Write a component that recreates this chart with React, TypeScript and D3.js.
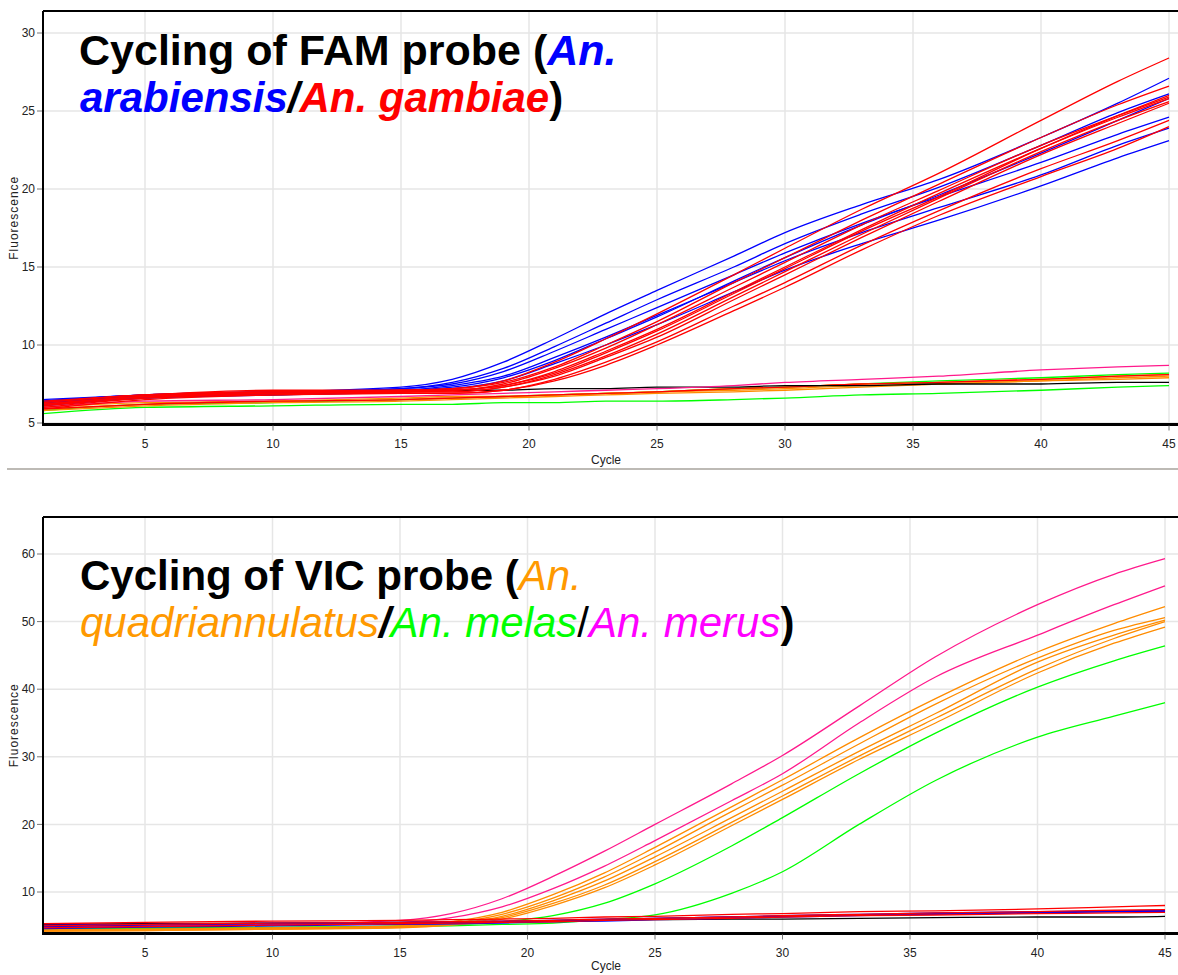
import * as d3 from 'd3';

const cycles = [1, 5, 10, 15, 17, 19, 21, 23, 25, 28, 30, 33, 36, 40, 43, 45];
const xTicks = [5, 10, 15, 20, 25, 30, 35, 40, 45];

// ---- FAM panel ----
const famTicks = [5, 10, 15, 20, 25, 30];
const famFlat = [
    { color: '#00ff00', values: [5.6, 6.0, 6.1, 6.2, 6.2, 6.3, 6.3, 6.4, 6.4, 6.5, 6.6, 6.8, 6.9, 7.1, 7.3, 7.4] },
    { color: '#00ff00', values: [5.8, 6.2, 6.3, 6.5, 6.6, 6.7, 6.8, 6.9, 7.0, 7.2, 7.3, 7.5, 7.7, 7.9, 8.1, 8.2] },
    { color: '#ff8c00', values: [5.9, 6.2, 6.4, 6.5, 6.6, 6.7, 6.8, 6.9, 7.0, 7.2, 7.3, 7.5, 7.6, 7.8, 8.0, 8.1] },
    { color: '#ff8c00', values: [6.0, 6.3, 6.4, 6.6, 6.7, 6.7, 6.8, 6.9, 7.0, 7.1, 7.2, 7.4, 7.5, 7.7, 7.8, 7.9] },
    { color: '#ff8c00', values: [5.8, 6.1, 6.3, 6.4, 6.5, 6.6, 6.7, 6.8, 6.9, 7.0, 7.1, 7.3, 7.5, 7.7, 7.9, 8.0] },
    { color: '#ff0000', values: [5.9, 6.2, 6.4, 6.5, 6.6, 6.7, 6.8, 6.9, 7.0, 7.2, 7.3, 7.5, 7.6, 7.8, 8.0, 8.1] },
    { color: '#000000', values: [6.3, 6.7, 6.8, 7.0, 7.1, 7.1, 7.2, 7.2, 7.3, 7.3, 7.4, 7.4, 7.5, 7.5, 7.6, 7.6] },
    { color: '#ff1a8c', values: [6.0, 6.4, 6.5, 6.7, 6.8, 6.9, 7.0, 7.1, 7.2, 7.4, 7.6, 7.8, 8.0, 8.4, 8.6, 8.7] },
];
const famBlue = [
    [6.5, 6.8, 7.0, 7.3, 7.8, 8.9, 10.4, 12.0, 13.5, 15.7, 17.2, 19.0, 20.6, 23.3, 25.5, 27.1],
    [6.4, 6.8, 7.0, 7.2, 7.6, 8.5, 9.9, 11.4, 12.9, 15.0, 16.5, 18.4, 20.1, 22.8, 24.9, 26.1],
    [6.3, 6.7, 6.9, 7.2, 7.5, 8.3, 9.6, 11.0, 12.4, 14.5, 15.9, 17.8, 19.5, 21.7, 23.5, 24.6],
    [6.2, 6.6, 6.9, 7.1, 7.4, 8.0, 9.2, 10.5, 11.9, 14.0, 15.4, 17.2, 18.8, 20.9, 22.8, 23.9],
    [6.1, 6.6, 6.8, 7.0, 7.2, 7.7, 8.8, 10.0, 11.3, 13.4, 14.8, 16.5, 18.0, 20.2, 22.0, 23.1],
    [6.4, 6.8, 7.0, 7.1, 7.3, 7.9, 9.0, 10.4, 11.8, 14.1, 15.6, 17.7, 19.6, 22.3, 24.4, 25.8],
];
const famRed = [
    [6.3, 6.8, 7.0, 7.1, 7.2, 7.7, 8.9, 10.4, 12.0, 14.5, 16.2, 18.7, 21.0, 24.4, 26.9, 28.4],
    [6.2, 6.7, 7.0, 7.1, 7.2, 7.6, 8.6, 10.0, 11.5, 14.0, 15.6, 18.0, 20.3, 23.3, 25.4, 26.6],
    [6.4, 6.8, 7.1, 7.1, 7.1, 7.5, 8.5, 9.8, 11.3, 13.7, 15.3, 17.7, 19.9, 22.8, 24.7, 25.9],
    [6.1, 6.7, 6.9, 7.0, 7.1, 7.4, 8.3, 9.6, 11.0, 13.4, 15.0, 17.4, 19.7, 22.6, 24.6, 25.8],
    [6.0, 6.6, 6.9, 7.0, 7.0, 7.3, 8.1, 9.3, 10.7, 13.1, 14.7, 17.1, 19.4, 22.4, 24.4, 25.6],
    [6.2, 6.7, 6.9, 7.0, 7.0, 7.3, 8.0, 9.2, 10.5, 12.9, 14.5, 16.9, 19.2, 22.2, 24.2, 25.5],
    [5.9, 6.5, 6.8, 6.9, 6.9, 7.1, 7.8, 8.9, 10.2, 12.5, 14.0, 16.4, 18.6, 21.3, 23.1, 24.4],
    [6.1, 6.6, 6.8, 6.9, 6.9, 7.1, 7.7, 8.7, 10.0, 12.2, 13.7, 16.1, 18.3, 20.8, 22.6, 24.0],
    [6.3, 6.8, 7.0, 7.0, 7.1, 7.4, 8.2, 9.5, 10.9, 13.3, 14.9, 17.3, 19.5, 22.6, 24.7, 26.0],
];

// ---- VIC panel ----
const vicTicks = [10, 20, 30, 40, 50, 60];
const vicMagenta = [
    [4.9, 5.0, 5.2, 5.8, 6.8, 9.0, 12.3, 16.0, 20.0, 26.0, 30.2, 37.5, 44.8, 52.5, 57.0, 59.3],
    [4.8, 4.9, 5.1, 5.5, 6.2, 7.8, 10.5, 13.8, 17.6, 23.5, 27.5, 35.0, 41.8, 48.0, 52.5, 55.3],
];
const vicOrange = [
    [4.4, 4.5, 4.7, 5.0, 5.6, 7.0, 9.6, 12.8, 16.6, 22.6, 26.6, 32.8, 38.6, 45.5, 49.7, 52.2],
    [4.3, 4.4, 4.6, 4.9, 5.4, 6.7, 9.1, 12.2, 15.9, 21.9, 25.8, 31.9, 37.8, 44.6, 48.7, 50.6],
    [4.2, 4.3, 4.5, 4.8, 5.3, 6.4, 8.7, 11.6, 15.2, 21.0, 24.9, 30.8, 36.4, 44.0, 48.0, 50.2],
    [4.3, 4.4, 4.6, 4.8, 5.2, 6.2, 8.3, 11.0, 14.5, 20.3, 24.2, 30.1, 35.7, 43.0, 47.5, 50.0],
    [4.2, 4.3, 4.5, 4.7, 5.1, 6.0, 8.0, 10.6, 14.0, 19.8, 23.7, 29.6, 35.0, 42.4, 46.8, 49.2],
];
const vicGreen = [
    [4.6, 4.7, 4.8, 5.0, 5.2, 5.6, 6.5, 8.3, 11.2, 16.8, 21.0, 27.5, 33.5, 40.3, 44.2, 46.4],
    [4.5, 4.6, 4.7, 4.9, 5.0, 5.2, 5.4, 5.9, 6.6, 9.8, 13.0, 20.0, 26.5, 32.9, 36.0, 38.0],
];
const vicFlat = [
    { color: '#000000', values: [5.2, 5.3, 5.4, 5.5, 5.5, 5.6, 5.7, 5.8, 5.9, 6.0, 6.0, 6.1, 6.2, 6.3, 6.3, 6.4] },
    { color: '#0000ff', values: [4.9, 5.1, 5.3, 5.4, 5.5, 5.6, 5.8, 5.9, 6.1, 6.3, 6.5, 6.7, 6.9, 7.1, 7.2, 7.3] },
    { color: '#0000ff', values: [4.6, 4.8, 5.0, 5.2, 5.3, 5.4, 5.6, 5.7, 5.9, 6.1, 6.3, 6.5, 6.7, 6.9, 7.1, 7.2] },
    { color: '#0000ff', values: [5.1, 5.2, 5.4, 5.5, 5.6, 5.7, 5.8, 6.0, 6.1, 6.3, 6.4, 6.6, 6.8, 7.0, 7.1, 7.1] },
    { color: '#ff0000', values: [5.3, 5.5, 5.7, 5.8, 5.9, 6.0, 6.1, 6.3, 6.4, 6.7, 6.8, 7.1, 7.2, 7.5, 7.8, 8.0] },
    { color: '#ff0000', values: [5.0, 5.2, 5.4, 5.5, 5.6, 5.7, 5.8, 6.0, 6.1, 6.3, 6.5, 6.7, 6.9, 7.1, 7.3, 7.4] },
    { color: '#ff0000', values: [4.7, 4.9, 5.1, 5.3, 5.4, 5.5, 5.6, 5.8, 5.9, 6.1, 6.3, 6.5, 6.6, 6.8, 6.9, 7.0] },
];

const famSeries = [
    ...famFlat,
    ...famBlue.map((values) => ({ color: '#0000ff', values })),
    ...famRed.map((values) => ({ color: '#ff0000', values })),
];
const vicSeries = [
    ...vicGreen.map((values) => ({ color: '#00ff00', values })),
    ...vicOrange.map((values) => ({ color: '#ff8c00', values })),
    ...vicMagenta.map((values) => ({ color: '#ff1a8c', values })),
    ...vicFlat,
];

const FONT = '"Liberation Sans", Arial, sans-serif';

type Series = { color: string; values: number[] };
type PanelProps = {
    id: string;
    top: number;
    bottom: number;
    cycleY: number;
    xRange: [number, number];
    yDomain: [number, number];
    yRange: [number, number];
    yTicks: number[];
    series: Series[];
    children?: React.ReactNode;
};

function Panel({ id, top, bottom, cycleY, xRange, yDomain, yRange, yTicks, series, children }: PanelProps) {
    const left = 43;
    const right = 1180;
    const x = d3.scaleLinear().domain([1, 45]).range(xRange);
    const y = d3.scaleLinear().domain(yDomain).range(yRange);
    const line = d3
        .line<number>()
        .x((_, i) => x(cycles[i]))
        .y((d) => y(d))
        .curve(d3.curveMonotoneX);

    return (
        <g>
            <defs>
                <clipPath id={id}>
                    <rect x={left} y={top} width={right - left} height={bottom - top} />
                </clipPath>
            </defs>
            {xTicks.map((t) => (
                <line key={'gx' + t} x1={x(t)} x2={x(t)} y1={top} y2={bottom} stroke="#e6e6e6" strokeWidth={1.5} />
            ))}
            {yTicks.map((t) => (
                <line key={'gy' + t} x1={left} x2={right} y1={y(t)} y2={y(t)} stroke="#e6e6e6" strokeWidth={1.5} />
            ))}
            {children}
            <g clipPath={`url(#${id})`}>
                {series.map((s, i) => (
                    <path key={i} d={line(s.values) ?? ''} fill="none" stroke={s.color} strokeWidth={1.3} />
                ))}
            </g>
            <line x1={left} x2={right} y1={top} y2={top} stroke="#000" strokeWidth={2} />
            <line x1={left} x2={left} y1={top} y2={bottom + 1} stroke="#000" strokeWidth={2} />
            <line x1={left - 1} x2={right} y1={bottom} y2={bottom} stroke="#000" strokeWidth={3} />
            {yTicks.map((t) => (
                <g key={'ty' + t}>
                    <line x1={left - 6} x2={left - 1} y1={y(t)} y2={y(t)} stroke="#777" />
                    <text x={left - 8} y={y(t)} dy="0.35em" textAnchor="end" fontSize={12} fontFamily={FONT} fill="#222">
                        {t}
                    </text>
                </g>
            ))}
            {xTicks.map((t) => (
                <g key={'tx' + t}>
                    <line x1={x(t)} x2={x(t)} y1={bottom + 1} y2={bottom + 6} stroke="#777" />
                    <text x={x(t)} y={bottom + 19} dy="0.35em" textAnchor="middle" fontSize={12} fontFamily={FONT} fill="#222">
                        {t}
                    </text>
                </g>
            ))}
            <text x={606} y={cycleY} dy="0.35em" textAnchor="middle" fontSize={12} fontFamily={FONT} fill="#222">
                Cycle
            </text>
            <text
                transform={`translate(14,${(top + bottom) / 2}) rotate(-90)`}
                textAnchor="middle"
                dy="0.35em"
                fontSize={12}
                letterSpacing={1}
                fontFamily={FONT}
                fill="#222"
            >
                Fluorescence
            </text>
        </g>
    );
}

export default function App() {
    return (
        <svg width={1178} height={975} style={{ position: 'absolute', left: 0, top: 0, background: '#fff' }}>
            <rect width={1178} height={975} fill="#fff" />
            <Panel
                id="clipFam"
                top={11}
                bottom={424.5}
                cycleY={460}
                xRange={[42.6, 1169]}
                yDomain={[5, 30]}
                yRange={[423, 33]}
                yTicks={famTicks}
                series={famSeries}
            >
                <text fontFamily={FONT} fontWeight="bold">
                    <tspan x={79} y={65} fontSize={43}>Cycling of FAM probe (</tspan>
                    <tspan fill="#0000ff" fontStyle="italic" fontSize={43}>An.</tspan>
                    <tspan x={80} y={112} fill="#0000ff" fontStyle="italic" fontSize={42}>arabiensis</tspan>
                    <tspan fontStyle="italic" fontSize={42}>/</tspan>
                    <tspan fill="#ff0000" fontStyle="italic" fontSize={42}>An. gambiae</tspan>
                    <tspan fontSize={42}>)</tspan>
                </text>
            </Panel>
            <line x1={7} x2={1178} y1={469} y2={469} stroke="#bdbab5" strokeWidth={2} />
            <Panel
                id="clipVic"
                top={517}
                bottom={933.5}
                cycleY={966}
                xRange={[43, 1165]}
                yDomain={[10, 60]}
                yRange={[892, 554]}
                yTicks={vicTicks}
                series={vicSeries}
            >
                <text fontFamily={FONT} fontSize={42}>
                    <tspan x={80} y={590} fontWeight="bold">Cycling of VIC probe (</tspan>
                    <tspan fill="#ff9900" fontStyle="italic">An.</tspan>
                    <tspan x={80} y={637} fill="#ff9900" fontStyle="italic">quadriannulatus</tspan>
                    <tspan fontWeight="bold" fontStyle="italic">/</tspan>
                    <tspan fill="#00ff00" fontStyle="italic">An. melas</tspan>
                    <tspan>/</tspan>
                    <tspan fill="#ff00ff" fontStyle="italic">An. merus</tspan>
                    <tspan fontWeight="bold">)</tspan>
                </text>
            </Panel>
        </svg>
    );
}
